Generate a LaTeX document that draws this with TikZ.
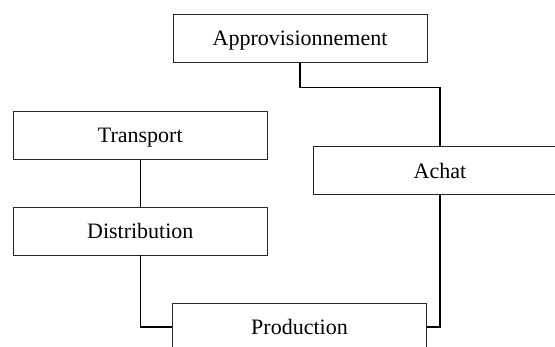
\documentclass[tikz,border=0pt]{standalone}
\usepackage{fontspec}
\setmainfont{Liberation Serif}
\begin{document}
\begin{tikzpicture}[x=1pt,y=-1pt,
  boxstyle/.style={draw=black!85, line width=0.8pt, rectangle, minimum width=254pt, minimum height=48pt,
    inner sep=0pt, text height=15pt, text depth=0.5pt, font=\fontsize{22}{26}\selectfont},
  linkstyle/.style={draw=black, line width=1.3pt}]
\useasboundingbox (0,0) rectangle (555,347);
\clip (0,0) rectangle (555,347);
\node[boxstyle] (ap) at (300,38.7) {Approvisionnement};
\node[boxstyle] (tr) at (140.3,135.2) {Transport};
\node[boxstyle] (di) at (140.3,231.1) {Distribution};
\node[boxstyle] (ac) at (440,170.9) {Achat};
\node[boxstyle] (pr) at (299.5,327) {Production};
\coordinate (m1) at (370,87.3);
\draw[linkstyle] (ap.south) |- (m1) -| (ac.north);
\draw[linkstyle] (ac.south) |- (pr.east);
\draw[linkstyle] (tr.south) -- (di.north);
\draw[linkstyle] (di.south) |- (pr.west);
\end{tikzpicture}
\end{document}
